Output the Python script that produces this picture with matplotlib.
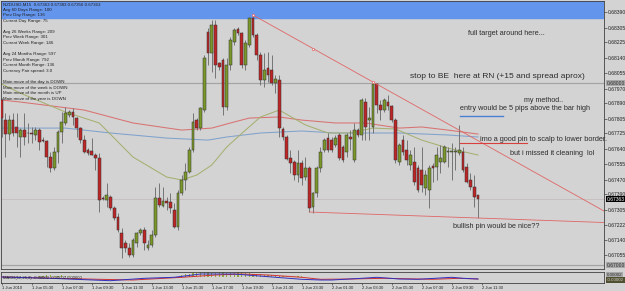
import matplotlib
matplotlib.use('Agg')
import matplotlib.pyplot as plt
import matplotlib.transforms as mtransforms
import numpy as np

plt.rcParams['font.family'] = ['Liberation Sans', 'DejaVu Sans']

# NZDUSD M15 bars, 1 Jun 2010 03:30 -> 2 Jun 2010 11:15
opens = [0.67907, 0.67797, 0.67720, 0.67797, 0.67759, 0.67704, 0.67742, 0.67726, 0.67726, 0.67715,
         0.67742, 0.67687, 0.67682, 0.67594, 0.67534, 0.67622, 0.67731, 0.67781, 0.67825, 0.67841,
         0.67808, 0.67753, 0.67687, 0.67632, 0.67627, 0.67605, 0.67589, 0.67369, 0.67358, 0.67374,
         0.67314, 0.67265, 0.67177, 0.67122, 0.67094, 0.67056, 0.67122, 0.67177, 0.67193, 0.67094,
         0.67111, 0.67166, 0.67369, 0.67325, 0.67353, 0.67347, 0.67303, 0.67210, 0.67396, 0.67468,
         0.67512, 0.67632, 0.67797, 0.67753, 0.67852, 0.68280, 0.68165, 0.68319, 0.68110, 0.68127,
         0.67869, 0.68099, 0.68225, 0.68297, 0.68275, 0.68099, 0.68209, 0.68357, 0.68264, 0.68154,
         0.68017, 0.68083, 0.68072, 0.68000, 0.68017, 0.67748, 0.67704, 0.67589, 0.67567, 0.67495,
         0.67561, 0.67484, 0.67534, 0.67320, 0.67396, 0.67534, 0.67632, 0.67698, 0.67687, 0.67660,
         0.67715, 0.67649, 0.67622, 0.67704, 0.67578, 0.67742, 0.67715, 0.67896, 0.67797, 0.67759,
         0.67995, 0.67879, 0.67852, 0.67896, 0.67874, 0.67797, 0.67567, 0.67687, 0.67632, 0.67550,
         0.67567, 0.67534, 0.67523, 0.67424, 0.67413, 0.67545, 0.67539, 0.67567, 0.67567, 0.67622,
         0.67622, 0.67622, 0.67616, 0.67622, 0.67539, 0.67468, 0.67429, 0.67385]
highs = [0.67918, 0.67836, 0.67825, 0.67836, 0.67836, 0.67753, 0.67836, 0.67781, 0.67759, 0.67759,
         0.67753, 0.67704, 0.67687, 0.67622, 0.67649, 0.67742, 0.67841, 0.67869, 0.67852, 0.67863,
         0.67814, 0.67759, 0.67715, 0.67643, 0.67698, 0.67616, 0.67616, 0.67380, 0.67451, 0.67385,
         0.67325, 0.67287, 0.67204, 0.67138, 0.67122, 0.67149, 0.67182, 0.67204, 0.67210, 0.67138,
         0.67193, 0.67429, 0.67451, 0.67429, 0.67374, 0.67396, 0.67342, 0.67413, 0.67495, 0.67561,
         0.67649, 0.67836, 0.67808, 0.67869, 0.68154, 0.68302, 0.68346, 0.68346, 0.68116, 0.68138,
         0.68138, 0.68253, 0.68302, 0.68308, 0.68280, 0.68236, 0.68363, 0.68374, 0.68275, 0.68171,
         0.68165, 0.68171, 0.68154, 0.68044, 0.68044, 0.67759, 0.67715, 0.67632, 0.67578, 0.67632,
         0.67578, 0.67594, 0.67545, 0.67402, 0.67545, 0.67649, 0.67698, 0.67726, 0.67704, 0.67715,
         0.67726, 0.67660, 0.67726, 0.67742, 0.67781, 0.67753, 0.67918, 0.67918, 0.67869, 0.68006,
         0.68000, 0.67907, 0.67918, 0.67934, 0.67879, 0.67808, 0.67671, 0.67715, 0.67687, 0.67632,
         0.67649, 0.67550, 0.67649, 0.67523, 0.67550, 0.67561, 0.67649, 0.67660, 0.67660, 0.67649,
         0.67671, 0.67649, 0.67770, 0.67649, 0.67561, 0.67506, 0.67495, 0.67385]
lows = [0.67704, 0.67594, 0.67687, 0.67709, 0.67649, 0.67594, 0.67660, 0.67671, 0.67671, 0.67687,
        0.67632, 0.67676, 0.67539, 0.67512, 0.67523, 0.67561, 0.67671, 0.67770, 0.67814, 0.67770,
        0.67704, 0.67671, 0.67616, 0.67605, 0.67605, 0.67523, 0.67292, 0.67358, 0.67320, 0.67303,
        0.67248, 0.67182, 0.67040, 0.67073, 0.67045, 0.67045, 0.67100, 0.67166, 0.67083, 0.67083,
        0.67100, 0.67155, 0.67320, 0.67320, 0.67303, 0.67287, 0.67204, 0.67193, 0.67385, 0.67413,
        0.67506, 0.67622, 0.67742, 0.67742, 0.67841, 0.68099, 0.68061, 0.68028, 0.68072, 0.67825,
        0.67852, 0.68072, 0.68209, 0.68264, 0.68083, 0.68072, 0.68198, 0.68253, 0.68127, 0.67989,
        0.67978, 0.68006, 0.67989, 0.67945, 0.67704, 0.67687, 0.67578, 0.67506, 0.67468, 0.67457,
        0.67440, 0.67468, 0.67292, 0.67287, 0.67374, 0.67512, 0.67622, 0.67622, 0.67622, 0.67649,
        0.67578, 0.67567, 0.67594, 0.67632, 0.67567, 0.67704, 0.67687, 0.67687, 0.67687, 0.67726,
        0.67836, 0.67797, 0.67841, 0.67852, 0.67786, 0.67561, 0.67550, 0.67605, 0.67550, 0.67523,
        0.67440, 0.67402, 0.67402, 0.67385, 0.67314, 0.67457, 0.67468, 0.67506, 0.67561, 0.67539,
        0.67468, 0.67523, 0.67605, 0.67512, 0.67451, 0.67413, 0.67320, 0.67259]
closes = [0.67808, 0.67720, 0.67797, 0.67726, 0.67726, 0.67742, 0.67704, 0.67724, 0.67720, 0.67742,
          0.67676, 0.67682, 0.67594, 0.67534, 0.67622, 0.67731, 0.67786, 0.67836, 0.67841, 0.67814,
          0.67753, 0.67687, 0.67622, 0.67616, 0.67605, 0.67589, 0.67358, 0.67363, 0.67385, 0.67314,
          0.67259, 0.67193, 0.67094, 0.67094, 0.67056, 0.67138, 0.67177, 0.67193, 0.67122, 0.67111,
          0.67166, 0.67369, 0.67331, 0.67353, 0.67342, 0.67314, 0.67210, 0.67396, 0.67468, 0.67512,
          0.67632, 0.67786, 0.67753, 0.67863, 0.68138, 0.68165, 0.68319, 0.68099, 0.68088, 0.67869,
          0.68099, 0.68236, 0.68291, 0.68275, 0.68099, 0.68220, 0.68357, 0.68264, 0.68154, 0.68017,
          0.68072, 0.68044, 0.68000, 0.68022, 0.67753, 0.67704, 0.67583, 0.67561, 0.67495, 0.67561,
          0.67479, 0.67534, 0.67314, 0.67396, 0.67534, 0.67622, 0.67687, 0.67632, 0.67632, 0.67698,
          0.67589, 0.67578, 0.67715, 0.67693, 0.67742, 0.67715, 0.67907, 0.67759, 0.67808, 0.67995,
          0.67879, 0.67852, 0.67907, 0.67874, 0.67797, 0.67578, 0.67660, 0.67622, 0.67578, 0.67605,
          0.67457, 0.67413, 0.67440, 0.67495, 0.67534, 0.67534, 0.67605, 0.67589, 0.67649, 0.67627,
          0.67627, 0.67627, 0.67632, 0.67523, 0.67457, 0.67429, 0.67374, 0.67363]

time_labels = ['1 Jun 2010', '1 Jun 05:30', '1 Jun 07:30', '1 Jun 09:30', '1 Jun 11:30',
               '1 Jun 13:30', '1 Jun 15:30', '1 Jun 17:30', '1 Jun 19:30', '1 Jun 21:30',
               '1 Jun 23:30', '2 Jun 01:30', '2 Jun 03:30', '2 Jun 05:30', '2 Jun 07:30',
               '2 Jun 09:30', '2 Jun 11:30']

price_ticks = [0.68390, 0.68305, 0.68225, 0.68140, 0.68055, 0.67970, 0.67890, 0.67805, 0.67725,
               0.67640, 0.67555, 0.67470, 0.67390, 0.67305, 0.67222, 0.67140, 0.67055]

# moving averages, read at a few bars
ma_fast_x = [0, 5, 17, 26, 35, 44, 48, 52, 56, 60, 65, 69, 74, 81, 87, 93, 99, 105, 112, 119, 127]
ma_fast = [0.67995, 0.67945, 0.67841, 0.67781, 0.67594, 0.67484, 0.67468, 0.67495, 0.67550, 0.67649,
           0.67742, 0.67814, 0.67852, 0.67770, 0.67726, 0.67726, 0.67753, 0.67748, 0.67687, 0.67643,
           0.67605]
ma_slow_x = [0, 5, 22, 35, 48, 56, 61, 66, 74, 80, 89, 97, 106, 112, 119, 127]
ma_slow = [0.67907, 0.67896, 0.67852, 0.67781, 0.67742, 0.67753, 0.67781, 0.67808, 0.67814, 0.67797,
           0.67781, 0.67781, 0.67753, 0.67759, 0.67742, 0.67720]
ma_mid_x = [0, 17, 29, 44, 55, 60, 69, 80, 89, 106, 119, 127]
ma_mid = [0.67753, 0.67753, 0.67726, 0.67698, 0.67687, 0.67704, 0.67726, 0.67737, 0.67726, 0.67726,
          0.67715, 0.67704]

# oscillator sub window
osc_blue_x = [0, 13, 29, 38, 46, 53, 62, 71, 80, 85, 88, 96, 100, 106, 111, 120, 123, 127]
osc_blue = [0.0, -0.000013, -0.000037, -0.000013, -0.000003, 0.00003, 0.00003, 0.000003, -0.000023,
            -0.00003, -0.00003, -0.000013, -0.000003, -0.00002, -0.000023, -0.000003, -0.000013, -0.00002]
osc_red_x = [0, 26, 35, 48, 57, 64, 71, 80, 85, 93, 102, 111, 115, 122, 127]
osc_red = [0.0, -0.000023, -0.00003, -0.000003, 0.00002, 0.00003, 0.00002, -0.000003, -0.000023,
           -0.00002, -0.000013, -0.00002, -0.000023, -0.000013, -0.00002]
hist_x = list(range(10, 19)) + list(range(48, 81))
hist = [0.00001, 0.00001, 0.00002, 0.00002, 0.00001, 0.00001, 0.00002, 0.00001, 0.00001,
        0.00002, 0.00003, 0.00003, 0.00004, 0.00004, 0.00005, 0.00005, 0.00005, 0.00004, 0.00004,
        0.00005, 0.00005, 0.00004, 0.00004, 0.00004, 0.00005, 0.00005, 0.00004, 0.00004, 0.00003,
        0.00003, 0.00003, 0.00002, 0.00002, 0.00002, 0.00002, 0.00001, 0.00001, 0.00001, 0.00001,
        0.00001, 0.00001, 0.00001]

info_lines = [('NZDUSD,M15  0.67363 0.67383 0.67356 0.67363', 5),
              ('Avg 60 Days Range: 100', 10), ('Prev Day Range: 136', 15),
              ('Current Day Range: 75', 21),
              ('Avg 26 Weeks Range: 209', 32), ('Prev Week Range: 301', 37),
              ('Current Week Range: 146', 43),
              ('Avg 24 Months Range: 597', 54), ('Prev Month Range: 792', 60),
              ('Current Month Range: 136', 65), ('Currency Pair spread: 3.0', 71),
              ('Main move of the day is DOWN', 82), ('Main move of the week is DOWN', 88),
              ('Main move of the month is UP', 93), ('Main move of the year is DOWN', 99)]

# text notes: text, bar, price, font size
notes = [('full target around here...', 124.3, 0.68275, 5.2),
         ('stop to BE  here at RN (+15 and spread aprox)', 108.9, 0.68039, 6.0),
         ('my method..', 139.3, 0.67907, 5.1),
         ('entry would be 5 pips above the bar high', 122.2, 0.67858, 5.25),
         ('imo a good pin to scalp to lower border.', 127.5, 0.67693, 5.3),
         ('but i missed it cleaning  lol', 135.5, 0.67616, 5.2),
         ('bullish pin would be nice??', 120.3, 0.67210, 5.2)]

bg = '#d3d3d3'
W, H = 625, 291


def box(x0, y0, x1, y1):
    return [x0 / W, 1 - y1 / H, (x1 - x0) / W, (y1 - y0) / H]


fig = plt.figure(figsize=(W / 100, H / 100), dpi=100, facecolor=bg)
ax = fig.add_axes(box(1, 1, 604, 269))
ax.set_facecolor(bg)
ax.set_xlim(-0.19, 160.6)
ax.set_ylim(0.66979, 0.68451)

# blue rectangle on top
ax.axhspan(0.68357, 0.68451, color='#6495ed', zorder=0)

# horizontal lines
ax.axhline(0.68000, color='#a4a4a4', lw=0.9, zorder=1)
ax.axhline(0.67000, color='#a4a4a4', lw=0.9, zorder=1)
ax.axhline(0.67363, color='#c4b8b8', lw=0.5, zorder=1)

# moving averages
ax.plot(ma_slow_x, ma_slow, color='#d97272', lw=0.75, zorder=2)
ax.plot(ma_mid_x, ma_mid, color='#80a2cc', lw=0.75, zorder=2)
ax.plot(ma_fast_x, ma_fast, color='#a6b070', lw=0.75, zorder=2)

# candles
o = np.array(opens)
c = np.array(closes)
xs = np.arange(len(o))
ax.vlines(xs, lows, highs, color='#6e6e6e', lw=0.65, zorder=3)
up = c >= o
bottoms = np.minimum(o, c)
heights = np.maximum(np.abs(c - o), 0.000025)
ax.bar(xs, heights, bottom=bottoms, width=0.7,
       color=np.where(up, '#7a982a', '#bd2626'), edgecolor='#303030', linewidth=0.35, zorder=4)

# trend lines
lc = '#e06666'
x_end = 160.6
p1, p2 = (67, 0.68374), (99, 0.68006)
slope = (p2[1] - p1[1]) / (p2[0] - p1[0])
ax.plot([p1[0], x_end], [p1[1], p2[1] + slope * (x_end - p2[0])], color=lc, lw=0.6, zorder=5)
mid = (p1[0] + p2[0]) / 2
ax.plot([p1[0], mid, p2[0]], [p1[1], p1[1] + slope * (mid - p1[0]), p2[1]], 's', ms=2,
        mfc='white', mec=lc, mew=0.5, zorder=6)
q1, q2 = (82, 0.67292), (127, 0.67259)
slope2 = (q2[1] - q1[1]) / (q2[0] - q1[0])
ax.plot([q1[0], x_end], [q1[1], q2[1] + slope2 * (x_end - q2[0])], color=lc, lw=0.6, zorder=5)

# short marker lines near the notes
ax.plot([122.2, 133.7], [0.67819, 0.67819], color='#4a7fd6', lw=1.0, zorder=5)
ax.plot([122.2, 140.1], [0.67671, 0.67671], color='#d84040', lw=0.8, zorder=5)

for text, nx, ny, fs in notes:
    ax.text(nx, ny, text, fontsize=fs, color='#2c2c2c', va='center', ha='left', zorder=7)

# price axis
ax.yaxis.tick_right()
ax.set_yticks(price_ticks)
ax.set_yticklabels(['%.5f' % v for v in price_ticks])
ax.tick_params(axis='y', labelsize=3.6, length=2, width=0.4, pad=1, colors='#202020')
ax.set_xticks([])
for s in ax.spines.values():
    s.set_color('#404040')
    s.set_linewidth(0.6)

tr = mtransforms.blended_transform_factory(ax.transAxes, ax.transData)
for val, fc, tc in [(0.68000, '#a8a8a8', '#303030'), (0.67000, '#a8a8a8', '#303030'),
                    (0.67363, '#000000', '#ffffff')]:
    ax.text(1.004, val, '%.5f' % val, transform=tr, fontsize=3.6, color=tc, va='center', ha='left',
            bbox=dict(boxstyle='square,pad=0.15', fc=fc, ec='none'), clip_on=False, zorder=8)

# info text of the indicator
for text, ypx in info_lines:
    fig.text(3 / W, 1 - ypx / H, text, fontsize=3.2, color='#202020', va='center', ha='left')

# oscillator window
ax2 = fig.add_axes(box(1, 272, 604, 283))
ax2.set_facecolor(bg)
ax2.set_xlim(-0.19, 160.6)
ax2.set_ylim(-0.00006, 0.00005)
ax2.bar(hist_x, hist, width=0.3, color='#8fa83a', zorder=2)
ax2.plot(osc_red_x, osc_red, color='#d03030', lw=0.7, zorder=3)
ax2.plot(osc_blue_x, osc_blue, color='#3030c0', lw=0.7, zorder=3)
ax2.text(0.003, 0.45, 'MACD(12,26,9) -0.00002 -0.00002 0.00000', transform=ax2.transAxes,
         fontsize=3, color='#202020', va='center', ha='left')
ax2.set_yticks([])
ax2.set_xticks(np.arange(0, 129, 8))
ax2.set_xticklabels(time_labels, ha='left')
ax2.tick_params(axis='x', labelsize=3, length=1.5, width=0.4, pad=1, colors='#202020')
for s in ax2.spines.values():
    s.set_color('#404040')
    s.set_linewidth(0.6)
for val, fc, tc, ypx in [(0.00002, '#a8a8a8', '#303030', 275), (-0.00002, '#505030', '#d0d0d0', 280)]:
    fig.text(607 / W, 1 - ypx / H, '%.5f' % val, fontsize=3.2, color=tc, va='center', ha='left',
             bbox=dict(boxstyle='square,pad=0.15', fc=fc, ec='none'))

fig.savefig('out.png', dpi=100, facecolor=bg)
